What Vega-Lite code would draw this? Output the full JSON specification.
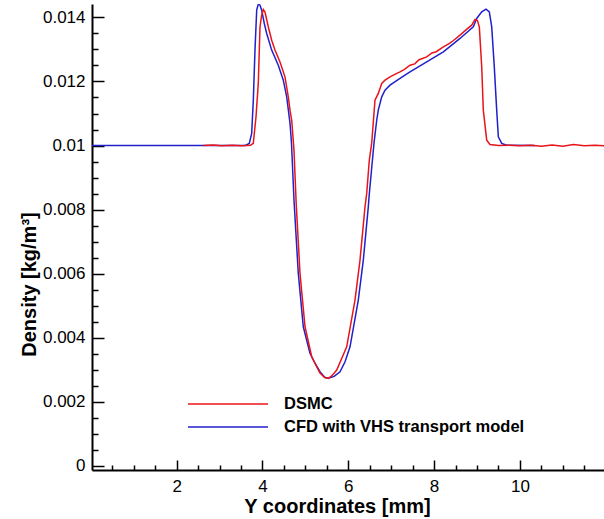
{
  "$schema": "https://vega.github.io/schema/vega-lite/v6.json",
  "autosize": "none",
  "width": 512,
  "height": 466,
  "padding": {"left": 92, "top": 4, "right": 0, "bottom": 49},
  "background": "white",
  "config": {
    "view": {"stroke": null},
    "font": "Liberation Sans",
    "axis": {"grid": false, "domainColor": "black", "domainWidth": 2, "tickColor": "black", "labelColor": "black", "titleColor": "black", "labelFont": "Liberation Sans", "titleFont": "Liberation Sans", "labelOverlap": false, "labelFlush": false},
    "legend": {"title": null, "orient": "none", "padding": 0, "symbolType": "stroke", "symbolSize": 6400, "symbolStrokeWidth": 1.5, "labelFont": "Liberation Sans", "labelFontSize": 16.5, "labelFontWeight": "bold", "labelColor": "black", "labelOffset": 15, "labelLimit": 400}
  },
  "resolve": {"axis": {"x": "independent", "y": "independent"}},
  "data": {"values": [
    {"series": "CFD with VHS transport model", "y": 0.026, "density": 0.01},
    {"series": "CFD with VHS transport model", "y": 3.6, "density": 0.01},
    {"series": "CFD with VHS transport model", "y": 3.692, "density": 0.010066},
    {"series": "CFD with VHS transport model", "y": 3.748, "density": 0.010378},
    {"series": "CFD with VHS transport model", "y": 3.786, "density": 0.011417},
    {"series": "CFD with VHS transport model", "y": 3.825, "density": 0.012979},
    {"series": "CFD with VHS transport model", "y": 3.865, "density": 0.014228},
    {"series": "CFD with VHS transport model", "y": 3.902, "density": 0.014415},
    {"series": "CFD with VHS transport model", "y": 3.942, "density": 0.014384},
    {"series": "CFD with VHS transport model", "y": 3.981, "density": 0.014228},
    {"series": "CFD with VHS transport model", "y": 4.042, "density": 0.013812},
    {"series": "CFD with VHS transport model", "y": 4.098, "density": 0.0135},
    {"series": "CFD with VHS transport model", "y": 4.214, "density": 0.01298},
    {"series": "CFD with VHS transport model", "y": 4.368, "density": 0.01251},
    {"series": "CFD with VHS transport model", "y": 4.485, "density": 0.01204},
    {"series": "CFD with VHS transport model", "y": 4.564, "density": 0.01152},
    {"series": "CFD with VHS transport model", "y": 4.641, "density": 0.0107},
    {"series": "CFD with VHS transport model", "y": 4.675, "density": 0.0101},
    {"series": "CFD with VHS transport model", "y": 4.734, "density": 0.0083},
    {"series": "CFD with VHS transport model", "y": 4.834, "density": 0.00601},
    {"series": "CFD with VHS transport model", "y": 4.951, "density": 0.00434},
    {"series": "CFD with VHS transport model", "y": 5.107, "density": 0.00351},
    {"series": "CFD with VHS transport model", "y": 5.224, "density": 0.0032},
    {"series": "CFD with VHS transport model", "y": 5.34, "density": 0.002935},
    {"series": "CFD with VHS transport model", "y": 5.45, "density": 0.00276},
    {"series": "CFD with VHS transport model", "y": 5.534, "density": 0.002729},
    {"series": "CFD with VHS transport model", "y": 5.67, "density": 0.00279},
    {"series": "CFD with VHS transport model", "y": 5.807, "density": 0.002935},
    {"series": "CFD with VHS transport model", "y": 5.924, "density": 0.003247},
    {"series": "CFD with VHS transport model", "y": 6.04, "density": 0.003715},
    {"series": "CFD with VHS transport model", "y": 6.233, "density": 0.005173},
    {"series": "CFD with VHS transport model", "y": 6.35, "density": 0.006422},
    {"series": "CFD with VHS transport model", "y": 6.466, "density": 0.008086},
    {"series": "CFD with VHS transport model", "y": 6.49, "density": 0.0085},
    {"series": "CFD with VHS transport model", "y": 6.599, "density": 0.01007},
    {"series": "CFD with VHS transport model", "y": 6.662, "density": 0.01079},
    {"series": "CFD with VHS transport model", "y": 6.699, "density": 0.011105},
    {"series": "CFD with VHS transport model", "y": 6.779, "density": 0.01152},
    {"series": "CFD with VHS transport model", "y": 6.856, "density": 0.01173},
    {"series": "CFD with VHS transport model", "y": 6.972, "density": 0.011886},
    {"series": "CFD with VHS transport model", "y": 7.205, "density": 0.012095},
    {"series": "CFD with VHS transport model", "y": 7.438, "density": 0.0123},
    {"series": "CFD with VHS transport model", "y": 7.828, "density": 0.01261},
    {"series": "CFD with VHS transport model", "y": 8.215, "density": 0.012925},
    {"series": "CFD with VHS transport model", "y": 8.604, "density": 0.013344},
    {"series": "CFD with VHS transport model", "y": 8.914, "density": 0.013706},
    {"series": "CFD with VHS transport model", "y": 8.993, "density": 0.013968},
    {"series": "CFD with VHS transport model", "y": 9.11, "density": 0.014174},
    {"series": "CFD with VHS transport model", "y": 9.21, "density": 0.014258},
    {"series": "CFD with VHS transport model", "y": 9.287, "density": 0.014174},
    {"series": "CFD with VHS transport model", "y": 9.343, "density": 0.013706},
    {"series": "CFD with VHS transport model", "y": 9.403, "density": 0.012457},
    {"series": "CFD with VHS transport model", "y": 9.459, "density": 0.011105},
    {"series": "CFD with VHS transport model", "y": 9.497, "density": 0.010272},
    {"series": "CFD with VHS transport model", "y": 9.576, "density": 0.010066},
    {"series": "CFD with VHS transport model", "y": 9.692, "density": 0.01001},
    {"series": "CFD with VHS transport model", "y": 10.35, "density": 0.01},
    {"series": "DSMC", "y": 2.62, "density": 0.01},
    {"series": "DSMC", "y": 2.85, "density": 0.01002},
    {"series": "DSMC", "y": 3.05, "density": 0.00999},
    {"series": "DSMC", "y": 3.3, "density": 0.01001},
    {"series": "DSMC", "y": 3.5, "density": 0.00999},
    {"series": "DSMC", "y": 3.72, "density": 0.01001},
    {"series": "DSMC", "y": 3.786, "density": 0.01007},
    {"series": "DSMC", "y": 3.849, "density": 0.0109},
    {"series": "DSMC", "y": 3.902, "density": 0.01194},
    {"series": "DSMC", "y": 3.942, "density": 0.01371},
    {"series": "DSMC", "y": 3.981, "density": 0.01407},
    {"series": "DSMC", "y": 4.019, "density": 0.01425},
    {"series": "DSMC", "y": 4.058, "density": 0.01417},
    {"series": "DSMC", "y": 4.135, "density": 0.01371},
    {"series": "DSMC", "y": 4.214, "density": 0.01329},
    {"series": "DSMC", "y": 4.291, "density": 0.01298},
    {"series": "DSMC", "y": 4.408, "density": 0.01261},
    {"series": "DSMC", "y": 4.524, "density": 0.012145},
    {"series": "DSMC", "y": 4.601, "density": 0.01152},
    {"series": "DSMC", "y": 4.641, "density": 0.011105},
    {"series": "DSMC", "y": 4.681, "density": 0.01079},
    {"series": "DSMC", "y": 4.734, "density": 0.009856},
    {"series": "DSMC", "y": 4.785, "density": 0.0082},
    {"series": "DSMC", "y": 4.874, "density": 0.006007},
    {"series": "DSMC", "y": 4.991, "density": 0.00434},
    {"series": "DSMC", "y": 5.147, "density": 0.003403},
    {"series": "DSMC", "y": 5.34, "density": 0.002894},
    {"series": "DSMC", "y": 5.45, "density": 0.00275},
    {"series": "DSMC", "y": 5.534, "density": 0.002729},
    {"series": "DSMC", "y": 5.62, "density": 0.00281},
    {"series": "DSMC", "y": 5.73, "density": 0.002988},
    {"series": "DSMC", "y": 5.963, "density": 0.003715},
    {"series": "DSMC", "y": 6.156, "density": 0.005173},
    {"series": "DSMC", "y": 6.273, "density": 0.006422},
    {"series": "DSMC", "y": 6.389, "density": 0.008086},
    {"series": "DSMC", "y": 6.429, "density": 0.008504},
    {"series": "DSMC", "y": 6.49, "density": 0.009544},
    {"series": "DSMC", "y": 6.545, "density": 0.010066},
    {"series": "DSMC", "y": 6.622, "density": 0.011417},
    {"series": "DSMC", "y": 6.699, "density": 0.011627},
    {"series": "DSMC", "y": 6.779, "density": 0.011939},
    {"series": "DSMC", "y": 6.856, "density": 0.012042},
    {"series": "DSMC", "y": 6.972, "density": 0.012145},
    {"series": "DSMC", "y": 7.049, "density": 0.012198},
    {"series": "DSMC", "y": 7.205, "density": 0.0123},
    {"series": "DSMC", "y": 7.3, "density": 0.01237},
    {"series": "DSMC", "y": 7.438, "density": 0.01251},
    {"series": "DSMC", "y": 7.55, "density": 0.01255},
    {"series": "DSMC", "y": 7.65, "density": 0.01268},
    {"series": "DSMC", "y": 7.828, "density": 0.01277},
    {"series": "DSMC", "y": 7.95, "density": 0.01289},
    {"series": "DSMC", "y": 8.05, "density": 0.01293},
    {"series": "DSMC", "y": 8.215, "density": 0.01308},
    {"series": "DSMC", "y": 8.35, "density": 0.01318},
    {"series": "DSMC", "y": 8.45, "density": 0.01328},
    {"series": "DSMC", "y": 8.604, "density": 0.013447},
    {"series": "DSMC", "y": 8.75, "density": 0.01362},
    {"series": "DSMC", "y": 8.876, "density": 0.013759},
    {"series": "DSMC", "y": 8.953, "density": 0.013937},
    {"series": "DSMC", "y": 9.01, "density": 0.0139},
    {"series": "DSMC", "y": 9.054, "density": 0.013706},
    {"series": "DSMC", "y": 9.11, "density": 0.012457},
    {"series": "DSMC", "y": 9.147, "density": 0.011105},
    {"series": "DSMC", "y": 9.226, "density": 0.010169},
    {"series": "DSMC", "y": 9.303, "density": 0.010034},
    {"series": "DSMC", "y": 9.5, "density": 0.01},
    {"series": "DSMC", "y": 9.75, "density": 0.01001},
    {"series": "DSMC", "y": 10.0, "density": 0.00999},
    {"series": "DSMC", "y": 10.25, "density": 0.01001},
    {"series": "DSMC", "y": 10.5, "density": 0.00998},
    {"series": "DSMC", "y": 10.75, "density": 0.01002},
    {"series": "DSMC", "y": 11.0, "density": 0.00998},
    {"series": "DSMC", "y": 11.25, "density": 0.01003},
    {"series": "DSMC", "y": 11.5, "density": 0.00999},
    {"series": "DSMC", "y": 11.75, "density": 0.01001},
    {"series": "DSMC", "y": 11.96, "density": 0.00999}
  ]},
  "layer": [
    {
      "transform": [{"filter": "datum.series === 'CFD with VHS transport model'"}],
      "mark": {"type": "line", "strokeWidth": 1.5, "clip": true},
      "encoding": {
        "x": {
          "field": "y", "type": "quantitative",
          "scale": {"domain": [0.026, 11.96], "nice": false, "zero": false},
          "axis": {
            "orient": "bottom",
            "title": null,
            "domain": false,
            "labels": false,
            "values": [0.5, 1, 1.5, 2.5, 3, 3.5, 4.5, 5, 5.5, 6.5, 7, 7.5, 8.5, 9, 9.5, 10.5, 11, 11.5],
            "tickSize": -5,
            "tickWidth": 1.5
          }
        },
        "y": {
          "field": "density", "type": "quantitative",
          "scale": {"domain": [-0.000134, 0.01442], "nice": false, "zero": false},
          "axis": {
            "orient": "left",
            "title": null,
            "domain": false,
            "labels": false,
            "values": [0.0005, 0.001, 0.0015, 0.0025, 0.003, 0.0035, 0.0045, 0.005, 0.0055, 0.0065, 0.007, 0.0075, 0.0085, 0.009, 0.0095, 0.0105, 0.011, 0.0115, 0.0125, 0.013, 0.0135],
            "tickSize": -6,
            "tickWidth": 1.5
          }
        },
        "stroke": {
          "field": "series", "type": "nominal",
          "scale": {"domain": ["CFD with VHS transport model"], "range": ["#2020cc"]},
          "legend": {"legendX": 95, "legendY": 382}
        }
      }
    },
    {
      "transform": [{"filter": "datum.series === 'DSMC'"}],
      "mark": {"type": "line", "strokeWidth": 1.5, "clip": true},
      "encoding": {
        "x": {
          "field": "y", "type": "quantitative",
          "scale": {"domain": [0.026, 11.96], "nice": false, "zero": false},
          "axis": {
            "orient": "bottom",
            "title": "Y coordinates [mm]",
            "values": [2, 4, 6, 8, 10],
            "tickSize": -10,
            "tickWidth": 1.5,
            "labelFontSize": 17,
            "labelPadding": 18,
            "titleFontSize": 20,
            "titleFontWeight": "bold",
            "titleX": 245,
            "titleY": 42,
            "titleBaseline": "alphabetic",
            "titleAnchor": null,
            "titleAlign": "center"
          }
        },
        "y": {
          "field": "density", "type": "quantitative",
          "scale": {"domain": [-0.000134, 0.01442], "nice": false, "zero": false},
          "axis": {
            "orient": "left",
            "title": "Density [kg/m³]",
            "values": [0, 0.002, 0.004, 0.006, 0.008, 0.01, 0.012, 0.014],
            "labelExpr": "format(datum.value, '~g')",
            "tickSize": -12,
            "tickWidth": 1.5,
            "labelFontSize": 17,
            "labelPadding": 19,
            "titleFontSize": 20,
            "titleFontWeight": "bold",
            "titleX": -57,
            "titleY": 280,
            "titleAngle": -90,
            "titleBaseline": "alphabetic",
            "titleAnchor": null,
            "titleAlign": "center"
          }
        },
        "color": {
          "field": "series", "type": "nominal",
          "scale": {"domain": ["DSMC"], "range": ["#e8141a"]},
          "legend": {"legendX": 95, "legendY": 359}
        }
      }
    }
  ]
}
